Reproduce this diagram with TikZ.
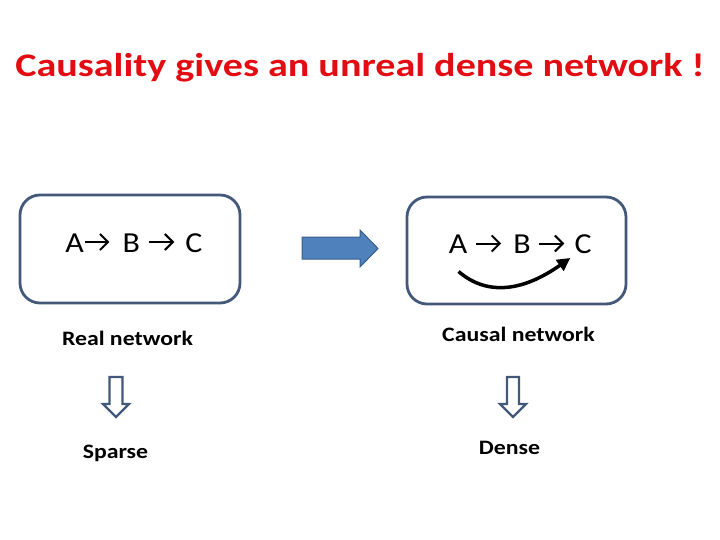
\documentclass[tikz,border=0pt]{standalone}
\usepackage{fontspec}
\setmainfont{Carlito}
\usetikzlibrary{arrows.meta}
\definecolor{titlered}{RGB}{226,12,18}
\definecolor{boxline}{RGB}{68,89,122}
\definecolor{blockfill}{RGB}{79,129,189}
\definecolor{blockline}{RGB}{56,93,138}
\tikzset{
  netbox/.style={draw=boxline, line width=2.8pt, rounded corners=20pt},
  letter/.style={font=\fontsize{29}{34}\selectfont, inner sep=0pt, anchor=base, transform shape, xscale=1.1},
  label/.style={font=\bfseries\fontsize{20.5}{24}\selectfont, inner sep=0pt, anchor=base, transform shape, xscale=1.16},
  txtarrow/.style={line width=2pt, -{Straight Barb[length=8pt, width=16pt, line width=2pt]}},
  hollowarrow/.style={draw=boxline, line width=2.2pt, fill=white, line join=miter},
}
\begin{document}
\begin{tikzpicture}[x=1pt, y=-1pt]
\useasboundingbox (0,0) rectangle (720,540);
% title
\node[font=\bfseries\fontsize{33}{40}\selectfont, text=titlered, inner sep=0pt, anchor=base, transform shape, xscale=1.215] (title) at (360,77) {Causality gives an unreal dense network !};
% boxes
\node[netbox, minimum width=220pt, minimum height=108pt, inner sep=0pt] (realbox) at (130,249) {};
\node[netbox, minimum width=219pt, minimum height=107pt, inner sep=0pt] (causbox) at (516.5,250.5) {};
% left letters
\node[letter] (la) at (74.5,252) {A};
\node[letter] (lb) at (131.3,252) {B};
\node[letter] (lc) at (194,252) {C};
\draw[txtarrow] ([xshift=1.5pt,yshift=10pt]la.base east) -- ([xshift=-13pt,yshift=10pt]lb.base west);
\draw[txtarrow] ([xshift=9pt,yshift=10pt]lb.base east) -- ([xshift=-11pt,yshift=10pt]lc.base west);
% right letters
\node[letter] (ra) at (458,254) {A};
\node[letter] (rb) at (522,254) {B};
\node[letter] (rc) at (583,254) {C};
\draw[txtarrow] ([xshift=9pt,yshift=10.5pt]ra.base east) -- ([xshift=-12pt,yshift=10.5pt]rb.base west);
\draw[txtarrow] ([xshift=8pt,yshift=10.5pt]rb.base east) -- ([xshift=-10pt,yshift=10.5pt]rc.base west);
\draw[line width=3.5pt, -{Triangle[length=13pt, width=13pt]}] ([xshift=10pt,yshift=-17.5pt]ra.base west) .. controls ([xshift=36pt,yshift=-40pt]ra.base west) and ([xshift=-55pt,yshift=-40pt]rc.base west) .. ([xshift=-4pt,yshift=-4pt]rc.base west);
% block arrow
\draw[fill=blockfill, draw=blockline, line width=1pt] (302,237) -- (360,237) -- (360,230) -- (378,248.5) -- (360,267) -- (360,259) -- (302,259) -- cycle;
% labels
\node[label] (lreal) at (127.5,345) {Real network};
\node[label] (lcaus) at (518.5,341) {Causal network};
\node[label] (lsparse) at (115.5,458) {Sparse};
\node[label] (ldense) at (509.5,454) {Dense};
% hollow down arrows
\draw[hollowarrow] (109.5,377) -- (122.5,377) -- (122.5,404) -- (129,404) -- (116,417) -- (103,404) -- (109.5,404) -- cycle;
\draw[hollowarrow] (507,377) -- (519,377) -- (519,404) -- (526,404) -- (513,417) -- (500,404) -- (507,404) -- cycle;
\end{tikzpicture}
\end{document}
